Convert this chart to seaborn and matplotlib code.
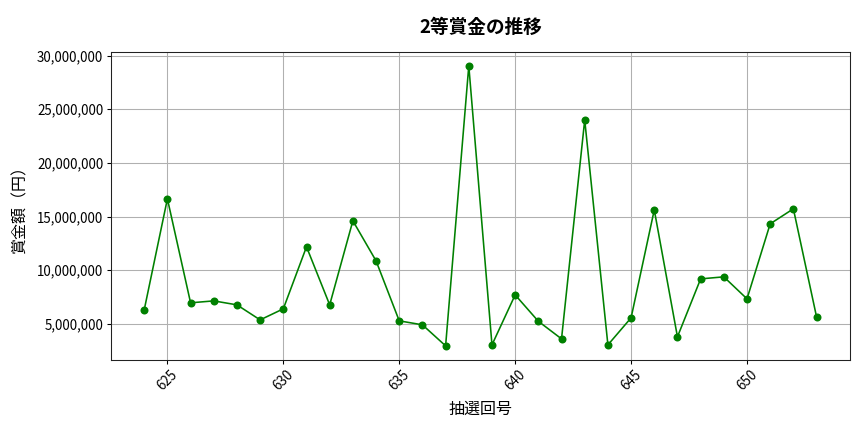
import matplotlib
matplotlib.use('Agg')
import matplotlib.pyplot as plt
import matplotlib.ticker as ticker
import seaborn as sns
import pandas as pd

# draw numbers (回号) and 2nd prize amounts
draw_no = list(range(624, 654))
prize = [6300000, 16650000, 6960000, 7140000, 6770000, 5370000, 6400000,
         12180000, 6770000, 14600000, 10870000, 5280000, 4910000, 2950000,
         29040000, 3040000, 7700000, 5240000, 3600000, 24000000, 3040000,
         5560000, 15620000, 3790000, 9190000, 9380000, 7330000, 14320000,
         15720000, 5650000]

df = pd.DataFrame({'draw': draw_no, 'prize': prize})

sns.set_style('ticks', {'axes.edgecolor': 'black', 'text.color': 'black',
                        'axes.labelcolor': 'black', 'xtick.color': 'black',
                        'ytick.color': 'black'})
plt.rcParams['font.family'] = ['Noto Sans CJK JP', 'DejaVu Sans']

fig, ax = plt.subplots(figsize=(9, 4.5), dpi=96)
sns.lineplot(data=df, x='draw', y='prize', ax=ax, color='green',
             marker='o', markersize=6, markeredgewidth=0, linewidth=1.2)

ax.set_title('2等賞金の推移', fontsize=14, fontweight='bold', pad=14)
ax.set_xlabel('抽選回号', fontsize=12, labelpad=6)
ax.set_ylabel('賞金額（円）', fontsize=12, labelpad=6)
ax.yaxis.set_major_formatter(ticker.FuncFormatter(lambda v, p: f'{int(v):,}'))
ax.xaxis.set_major_locator(ticker.MultipleLocator(5))
ax.tick_params(length=3, width=0.8, pad=2.5)
plt.xticks(rotation=45)
ax.grid(True, color='#b0b0b0', linewidth=0.8)
for s in ax.spines.values():
    s.set_visible(True)
    s.set_color('#222222')

fig.subplots_adjust(left=0.128, right=0.984, top=0.88, bottom=0.167)
plt.savefig('out.png')
